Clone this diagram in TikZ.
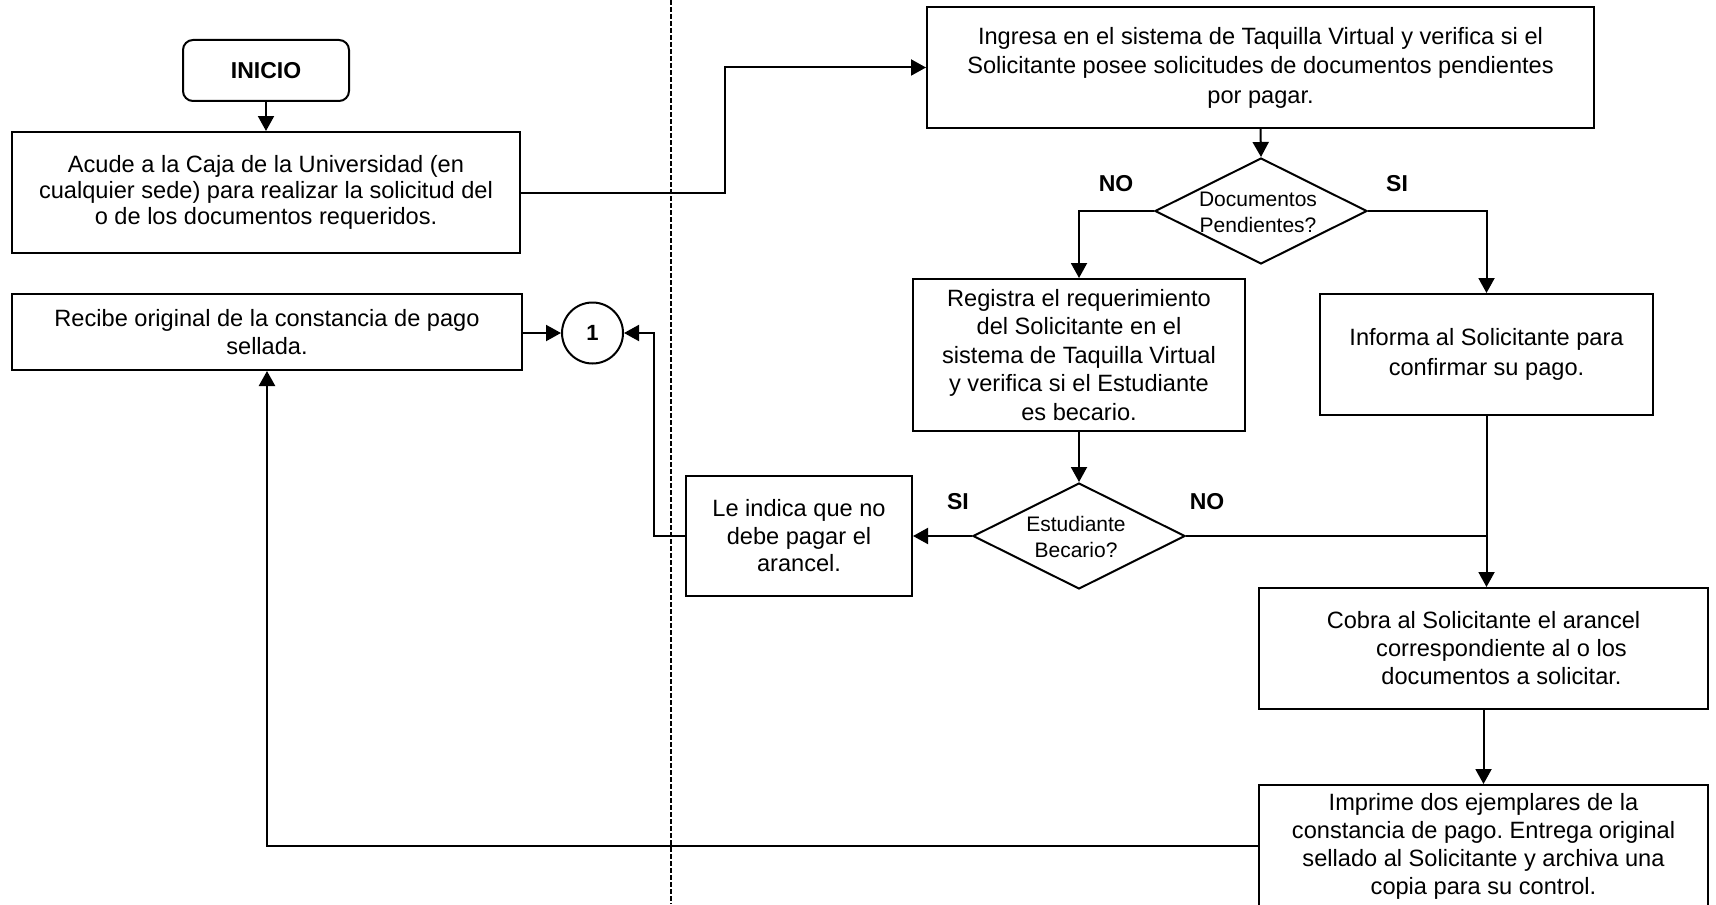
\documentclass[tikz,border=0pt]{standalone}
\usepackage{fontspec}
\setmainfont{Liberation Sans}
\usetikzlibrary{arrows.meta,shapes.geometric}
\frenchspacing
\begin{document}
\begin{tikzpicture}[x=0.5pt,y=-0.5pt,
  box/.style={draw,line width=1pt,rectangle,align=center,inner sep=0pt,
    font=\fontsize{11.8}{14}\selectfont},
  decision/.style={draw,line width=1pt,diamond,inner sep=0pt,
    minimum width=106pt,minimum height=53pt},
  dtext/.style={align=center,inner sep=0pt,font=\fontsize{10.5}{13}\selectfont},
  lbl/.style={inner sep=0pt,font=\fontsize{11.5}{13}\selectfont\bfseries},
  arr/.style={line width=1pt,-{Triangle[length=7.5pt,width=8pt]}},
  conn/.style={line width=1pt},
]
\useasboundingbox (0,0) rectangle (1716,904);
\fill[white] (0,0) rectangle (1716,904);

% divider between the two lanes
\draw[line width=0.7pt,dash pattern=on 2.5pt off 1pt] (671,0) -- (671,904);

% left lane
\node[box,rounded corners=5pt,minimum width=83pt,minimum height=30.5pt,
  font=\fontsize{11.5}{14}\selectfont\bfseries] (inicio) at (266,70.5) {INICIO};
\node[box,minimum width=254pt,minimum height=60.5pt,
  font=\fontsize{11.8}{13}\selectfont] (acude) at (266,192.5)
  {Acude a la Caja de la Universidad (en\\cualquier sede) para realizar la solicitud del\\o de los documentos requeridos.};
\node[box,minimum width=255pt,minimum height=38pt] (recibe) at (267,332)
  {Recibe original de la constancia de pago\\sellada.};
\node[draw,circle,line width=1pt,minimum size=30.5pt,inner sep=0pt,
  font=\fontsize{11}{12}\selectfont\bfseries] (c1) at (592.5,333) {1};

% right lane
\node[box,minimum width=333.5pt,minimum height=60.5pt,
  font=\fontsize{11.8}{14.75}\selectfont] (ingresa) at (1260.5,67.5)
  {Ingresa en el sistema de Taquilla Virtual y verifica si el\\Solicitante posee solicitudes de documentos pendientes\\por pagar.};
\node[decision] (dd) at (1261,211) {};
\node[dtext] (ddt) at (1258,212) {Documentos\\Pendientes?};
\node[lbl] (no1) at (1116,184) {NO};
\node[lbl] (si1) at (1397,184) {SI};

\node[box,minimum width=166pt,minimum height=76pt,
  font=\fontsize{11.8}{14.25}\selectfont] (registra) at (1079,355)
  {Registra el requerimiento\\del Solicitante en el\\sistema de Taquilla Virtual\\y verifica si el Estudiante\\es becario.};
\node[box,minimum width=166.5pt,minimum height=60.5pt,
  font=\fontsize{11.8}{15}\selectfont] (informa) at (1486.5,354.5)
  {Informa al Solicitante para\\confirmar su pago.};

\node[decision] (de) at (1079,536) {};
\node[dtext] (det) at (1076,537) {Estudiante\\Becario?};
\node[lbl] (si2) at (958,502) {SI};
\node[lbl] (no2) at (1207,502) {NO};

\node[box,minimum width=113pt,minimum height=60pt,
  font=\fontsize{11.8}{13.75}\selectfont] (indica) at (799,536)
  {Le indica que no\\debe pagar el\\arancel.};

\node[box,minimum width=224.5pt,minimum height=60.5pt] (cobra) at (1483.5,648.5)
  {Cobra al Solicitante el arancel\\\hspace*{18pt}correspondiente al o los\\\hspace*{18pt}documentos a solicitar.};
\node[box,minimum width=224.5pt,minimum height=61pt] (imprime) at (1483.5,846)
  {Imprime dos ejemplares de la\\constancia de pago. Entrega original\\sellado al Solicitante y archiva una\\copia para su control.};

% routing columns
\coordinate (k1) at (725,0);
\coordinate (k2) at (654,0);

% connectors
\draw[arr] (inicio.south) -- (acude.north);
\draw[arr] (acude.east) -| (k1 |- ingresa.west) -- (ingresa.west);
\draw[arr] (ingresa.south) -- (dd.north);
\draw[arr] (dd.west) -| (registra.north);
\draw[arr] (dd.east) -| (informa.north);
\draw[arr] (registra.south) -- (de.north);
\draw[arr] (de.west) -- (indica.east);
\draw[arr] (indica.west) -- (k2 |- indica.west) |- (c1.east);
\draw[arr] (recibe.east |- c1.west) -- (c1.west);
\draw[conn] (de.east) -- (informa.south |- de.east);
\draw[arr] (informa.south) -- (informa.south |- cobra.north);
\draw[arr] (cobra.south) -- (imprime.north);
\draw[arr,line width=1.2pt] (imprime.west) -| (recibe.south);
\end{tikzpicture}
\end{document}
